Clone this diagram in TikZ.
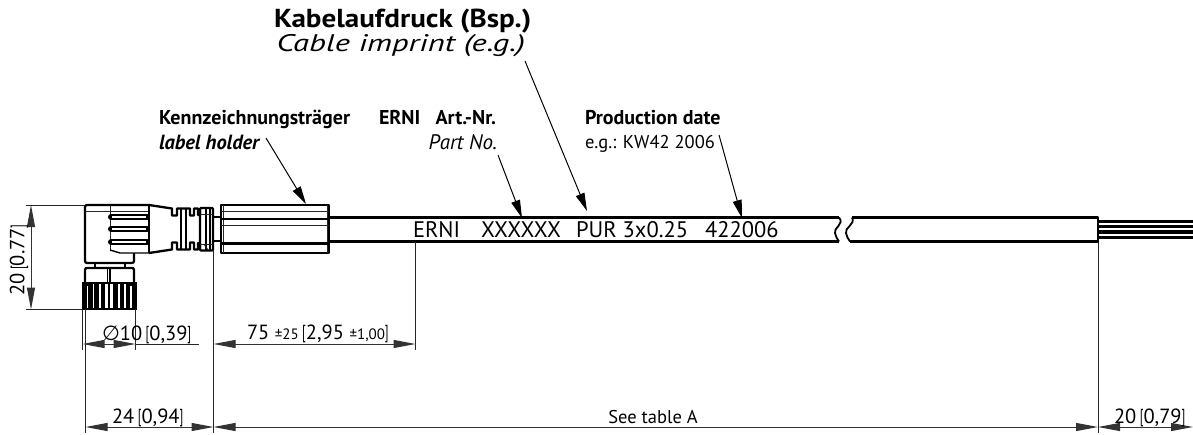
\documentclass[tikz,border=0pt]{standalone}
\usepackage{fontspec}
\usepackage{graphicx}
\setmainfont{PT Sans}
\newfontfamily\dejavu{DejaVu Sans}
\usetikzlibrary{arrows.meta}
\newcommand{\lb}{\raisebox{0.03em}{\scalebox{0.6}[0.92]{[}}}
\newcommand{\rb}{\raisebox{0.03em}{\scalebox{0.6}[0.92]{]}}}
\tikzset{
  thk/.style={line width=2.3pt,line join=round},
  med/.style={line width=1.4pt,line join=round},
  thn/.style={line width=1pt,black!85},
  dimline/.style={line width=1pt,black!80,{Triangle[length=22pt,width=8pt]}-{Triangle[length=22pt,width=8pt]}},
  dimend/.style={line width=1pt,black!80,-{Triangle[length=22pt,width=8pt]}},
  leader/.style={line width=1pt,-{Triangle[length=18pt,width=9pt]}},
  txt/.style={inner sep=0pt,outer sep=0pt,font=\fontsize{18.5}{18}\selectfont},
  hdr/.style={inner sep=0pt,outer sep=0pt,font=\fontsize{20}{20}\selectfont\bfseries},
  bighdr/.style={inner sep=0pt,outer sep=0pt,font=\fontsize{26}{26}\selectfont\bfseries},
  bigit/.style={inner sep=0pt,outer sep=0pt,font=\fontsize{24}{24}\selectfont\itshape},
  cabletxt/.style={inner sep=0pt,outer sep=0pt,font=\fontsize{22.5}{22}\selectfont},
  dimtxt/.style={inner sep=0pt,outer sep=0pt,font=\fontsize{20.5}{20}\selectfont},
}
\begin{document}
\begin{tikzpicture}[x=1pt,y=-1pt]
\useasboundingbox (0,0) rectangle (1193,434);
% ---- coordinates
\coordinate (holderTip) at (306,204);
\coordinate (holderStart) at (266,138);
\coordinate (partStart) at (498,155);
\coordinate (partTip) at (522,218);
\coordinate (imprStart) at (525,61);
\coordinate (imprTip) at (587,211);
\coordinate (dateStart) at (719,135);
\coordinate (dateTip) at (742,218);
% ---- cable
\draw[thk] (329,217.5) -- (839,217.5) (329,241.5) -- (839,241.5);
\draw[thk] (852,217.5) -- (1098,217.5) -- (1098,241.5) -- (850,241.5);
\draw[line width=1.8pt] (839,217.5) .. controls (845,224) and (833,228) .. (835,233) .. controls (835.5,236) and (837,239) .. (839,241.5);
\draw[line width=1.8pt] (852,217.5) .. controls (856,224) and (844,228) .. (846,233) .. controls (846.5,236) and (848,239) .. (850,241.5);
% wires
\foreach \y in {221.8,226.8,232,237.3} \draw[line width=3.2pt] (1098,\y) -- (1193,\y);
% stub
\draw[med] (212,217) -- (221,217) (212,241) -- (221,241);
% ---- label holder
\draw[thk] (221,205) rectangle (329,253);
\draw[thn] (223,205) -- (223,253) (327,205) -- (327,253);
\draw[thn] (221,211.5) -- (329,211.5);
\draw[line width=2.2pt] (221,219) -- (329,219);
\draw[thn] (221,225) -- (329,225);
\draw[line width=2.2pt] (221,243.5) -- (329,243.5);
% ---- elbow body
\draw[thk,rounded corners=2pt] (149,205) -- (85,205) -- (85,263) -- (134,263) -- (134,253);
\draw[thn] (85,211) -- (149,211);
\draw[thn] (110,205) -- (110,250);
\draw[med] (110,250) -- (120,253) -- (149,253);
\draw[line width=2.6pt] (149,205) -- (149,253);
\foreach \y in {217,229,242}{
  \draw[line width=6pt,line cap=round] (111,\y) -- (147,\y);
  \draw[white,line width=1.2pt] (112,\y) -- (146,\y);
}
% ---- strain relief
\draw[thk] (149,205) -- (172,208.5) -- (172,215.5) -- (177,215.5) -- (177,208.5) -- (186,208.5) -- (190,208.5) -- (190,215.5) -- (194,215.5) -- (194,208.5) -- (198,208.5) -- (198,215) -- (200,215) -- (200,208);
\draw[thk] (149,253) -- (172,249.5) -- (172,242.5) -- (177,242.5) -- (177,249.5) -- (190,249.5) -- (190,242.5) -- (194,242.5) -- (194,249.5) -- (198,249.5) -- (198,243) -- (200,243) -- (200,250);
\draw[thk] (181,208.5) -- (181,249.5) (186,208.5) -- (186,225) (186,233) -- (186,249.5);
\draw[med] (186,225) -- (186,233);
\draw[thk,rounded corners=1pt] (200,208) -- (213,208) -- (213,250.5) -- (200,250.5) -- cycle;
\draw[med] (206,208) -- (206,250.5) (210,208) -- (210,250.5);
\draw[thn] (200,214) -- (213,214) (200,244) -- (213,244);
\draw[thn] (204,244) -- (208,250);
% ---- coupling nut
\draw[thk] (85,268) -- (134,268);
\draw[med] (95,263) -- (95,268) (125,263) -- (125,268);
\draw[thk,rounded corners=2pt] (85,282) -- (85,268) -- (134,268) -- (134,282);
\draw[med] (107.5,268) -- (107.5,282) (110,268) -- (110,282);
\fill[black] (82,282) rectangle (137,309.5);
\fill[white] (86.5,286) rectangle (88,308);
\fill[white] (92.5,284) rectangle (94,308);
\fill[white] (99,284) rectangle (101,308);
\fill[white] (105,284) rectangle (113,308);
\fill[black] (108,284) rectangle (109.5,308);
\fill[white] (117.5,284) rectangle (119.5,308);
\fill[white] (124,284) rectangle (125.5,308);
\fill[white] (130,286) rectangle (131.5,308);
% ---- extension lines
\coordinate (e20a) at (26,205); \coordinate (e20b) at (26,309.5);
\draw[thn] (e20a) -- (85,205) (e20b) -- (82,309.5);
\draw[thn] (82.5,309) -- (82.5,350);
\draw[thn] (135.5,309) -- (135.5,350);
\draw[thn] (85.5,309) -- (85.5,433);
\draw[thn] (213.5,250) -- (213.5,433);
\draw[thn] (415.5,242) -- (415.5,350);
\draw[thn] (1098,242) -- (1098,433);
% ---- dimension lines
\coordinate (d20t) at (31,205); \coordinate (d20b) at (31,309.5);
\draw[dimline] (d20t) -- (d20b);
\coordinate (dDa) at (82.5,344); \coordinate (dDb) at (135.5,344); \coordinate (dDc) at (199,344);
\draw[dimline] (dDa) -- (dDb);
\draw[thn] (dDb) -- (dDc);
\coordinate (d75a) at (213.5,344); \coordinate (d75b) at (415.5,344);
\draw[dimline] (d75a) -- (d75b);
\coordinate (d24a) at (85.5,427); \coordinate (d24b) at (213.5,427); \coordinate (dAb) at (1098,427);
\draw[dimline] (d24a) -- (d24b);
\draw[dimline] (d24b) -- (dAb);
\coordinate (dEa) at (1193,427);
\coordinate (dEm) at (1119,427);
\draw[dimend] (dEm) -- (dAb);
\draw[dimend] (dEm) -- (dEa);
% ---- leaders
\draw[leader] (holderStart) -- (holderTip);
\draw[leader] (partStart) -- (partTip);
\draw[leader] (imprStart) -- (imprTip);
\draw[leader] (dateStart) -- (dateTip);
% ---- labels
\node[bighdr,anchor=base west] (t1) at (274,27) {\scalebox{1.12}[1]{Kabelaufdruck (Bsp.)}};
\node[bigit,anchor=base east] (t2) at (525,51) {\scalebox{1.36}[1]{Cable imprint (e.g.)}};
\node[hdr,anchor=base west] (t3) at (159,124) {Kennzeichnungsträger};
\node[hdr,anchor=base west,font=\fontsize{20.5}{20}\selectfont\bfseries\itshape] (t4) at (159,149) {label holder};
\node[hdr,anchor=base west] (t5) at (379,124) {ERNI};
\node[hdr,anchor=base east] (t6) at (496,124) {Art.-Nr.};
\node[txt,anchor=base east,font=\fontsize{21}{20}\selectfont\itshape] (t7) at (497,149) {Part No.};
\node[hdr,anchor=base west] (t8) at (585,124) {Production date};
\node[txt,anchor=base west] (t9) at (585,148) {e.g.: KW42 2006};
\node[cabletxt,anchor=base west] (c1) at (413,237.5) {ERNI};
\node[cabletxt,anchor=base west] (c2) at (481,237.5) {XXXXXX};
\node[cabletxt,anchor=base west] (c3) at (576,237.5) {PUR 3x0.25};
\node[cabletxt,anchor=base west] (c4) at (705,237.5) {422006};
\node[dimtxt,rotate=90,anchor=center] (n20) at (19,260) {20\,\lb0.77\rb};
\node[dimtxt,anchor=base west] (nD) at (102,340.5) {{\dejavu∅}10\,\lb0,39\rb};
\node[dimtxt,anchor=base west] (n75) at (247,339.5) {75 {\fontsize{15}{15}\selectfont ±25}\,\lb2,95 {\fontsize{15}{15}\selectfont ±1,00}\rb};
\node[dimtxt,anchor=base west] (n24) at (112,423) {24\,\lb0,94\rb};
\node[txt,anchor=base] (nA) at (653,423) {See table A};
\node[dimtxt,anchor=base west] (n20b) at (1114,423) {20\,\lb0,79\rb};
\end{tikzpicture}
\end{document}
